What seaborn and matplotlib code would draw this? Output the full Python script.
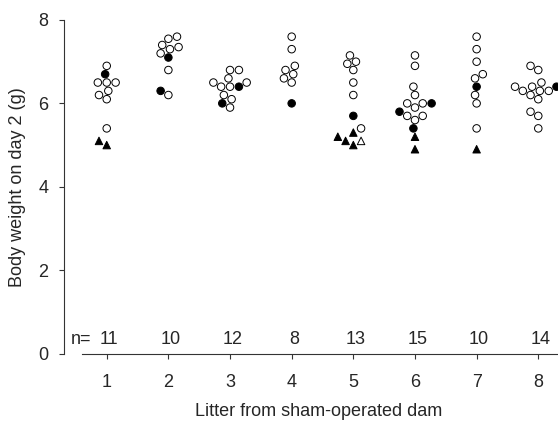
import matplotlib
matplotlib.use('Agg')
import matplotlib.pyplot as plt
import seaborn as sns
import pandas as pd
from matplotlib.markers import MarkerStyle

litters = [1, 2, 3, 4, 5, 6, 7, 8]
n_labels = ['11', '10', '12', '8', '13', '15', '10', '14']

# open circles
open_litter = [1] * 8 + [2] * 8 + [3] * 10 + [4] * 7 + [5] * 7 + [6] * 10 + [7] * 8 + [8] * 13
open_weight = [6.9, 6.5, 6.5, 6.5, 6.3, 6.2, 6.1, 5.4,
               7.6, 7.55, 7.4, 7.35, 7.3, 7.2, 6.8, 6.2,
               6.8, 6.8, 6.6, 6.5, 6.5, 6.4, 6.4, 6.2, 6.1, 5.9,
               7.6, 7.3, 6.9, 6.8, 6.7, 6.6, 6.5,
               7.15, 7.0, 6.95, 6.8, 6.5, 6.2, 5.4,
               7.15, 6.9, 6.4, 6.2, 6.0, 6.0, 5.9, 5.7, 5.7, 5.6,
               7.6, 7.3, 7.0, 6.7, 6.6, 6.2, 6.0, 5.4,
               6.9, 6.8, 6.5, 6.4, 6.4, 6.3, 6.3, 6.3, 6.2, 6.1, 5.8, 5.7, 5.4]

# filled circles
filled_litter = [1, 2, 2, 3, 3, 4, 5, 6, 6, 6, 7, 8]
filled_weight = [6.7, 7.1, 6.3, 6.4, 6.0, 6.0, 5.7, 6.0, 5.8, 5.4, 6.4, 6.4]

# filled triangles
tri_litter = [1, 1, 5, 5, 5, 5, 6, 6, 7]
tri_weight = [5.1, 5.0, 5.3, 5.2, 5.1, 5.0, 5.2, 4.9, 4.9]

# open triangle
otri_litter = [5]
otri_weight = [5.1]

# filled marks first so they take the middle of the swarm on ties
df = pd.concat([
    pd.DataFrame({'litter': filled_litter, 'weight': filled_weight, 'kind': 'filled'}),
    pd.DataFrame({'litter': tri_litter, 'weight': tri_weight, 'kind': 'tri'}),
    pd.DataFrame({'litter': otri_litter, 'weight': otri_weight, 'kind': 'otri'}),
    pd.DataFrame({'litter': open_litter, 'weight': open_weight, 'kind': 'open'}),
], ignore_index=True)

sns.set_style('ticks')
plt.rcParams['font.family'] = ['Liberation Sans', 'DejaVu Sans']
FS = 13

fig = plt.figure(figsize=(5.58, 4.21), dpi=100)
ax = fig.add_axes([0.1147, 0.1603, 0.8853, 0.7922])

palette = {'open': 'white', 'filled': 'black', 'tri': 'black', 'otri': 'white'}
sns.swarmplot(data=df, x='litter', y='weight', hue='kind', palette=palette,
              native_scale=True, size=5.4, edgecolor='black', linewidth=0.7,
              legend=False, ax=ax)

# swap circle markers for triangles where needed
circ = MarkerStyle('o')
tri = MarkerStyle('^')
circ_path = circ.get_path().transformed(circ.get_transform())
tri_path = tri.get_path().transformed(tri.get_transform())
for coll in ax.collections:
    offs = coll.get_offsets()
    if len(offs) == 0:
        continue
    lit = int(round(offs[0][0]))
    kinds = df[df['litter'] == lit]['kind'].tolist()
    coll.set_paths([tri_path if k in ('tri', 'otri') else circ_path for k in kinds])

ax.set_xlim(0.307, 8.32)
ax.set_ylim(0, 8)
ax.set_xticks(litters)
ax.set_yticks([0, 2, 4, 6, 8])
ax.set_xticklabels([str(l) for l in litters])
sns.despine(ax=ax)
ax.spines['bottom'].set_bounds(0.6, 8.32)
for s in ['left', 'bottom']:
    ax.spines[s].set_linewidth(0.8)
    ax.spines[s].set_color('#333333')
ax.tick_params(axis='y', length=3.6, width=0.8, pad=7.5, labelsize=FS, color='#333333')
ax.tick_params(axis='x', length=3.6, width=0.8, pad=10.8, labelsize=FS, color='#333333')

ax.text(0.415, 0.23, 'n=', ha='left', va='baseline', fontsize=FS)
for lit, n in zip(litters, n_labels):
    ax.text(lit + 0.04, 0.23, n, ha='center', va='baseline', fontsize=FS)

ax.set_xlabel('Litter from sham-operated dam', fontsize=FS)
ax.set_ylabel('Body weight on day 2 (g)', fontsize=FS)
ax.xaxis.set_label_coords(0.515, -0.1475)
ax.yaxis.set_label_coords(-0.077, 0.5)

fig.savefig('out.png', dpi=100)
